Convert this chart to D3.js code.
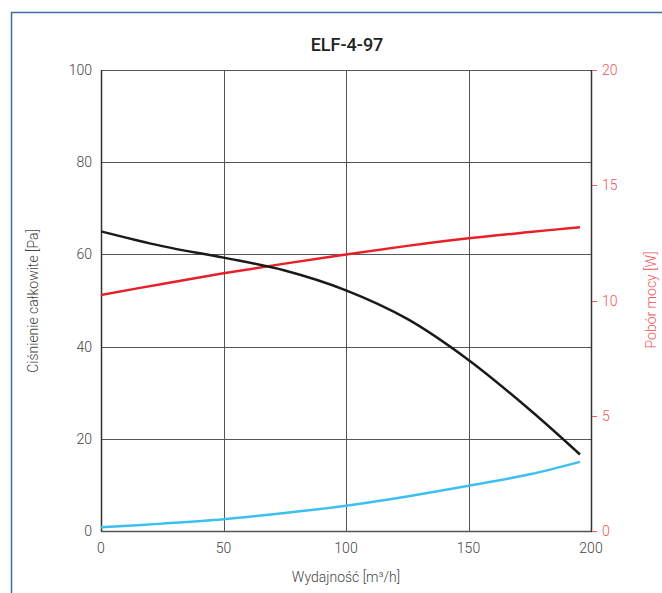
<!DOCTYPE html>
<html><head><meta charset="utf-8">
<script src="https://cdn.jsdelivr.net/npm/d3@7"></script>
<style>body{margin:0;background:#fff}svg{display:block}text{font-family:Roboto,"Noto Sans",sans-serif}</style>
</head><body>
<svg id="c" width="662" height="593"></svg>
<script>
const title = "ELF-4-97";
const xLabel = "Wydajność [m³/h]";
const yLeftLabel = "Ciśnienie całkowite [Pa]";
const yRightLabel = "Pobór mocy [W]";
const xTicks = [0, 50, 100, 150, 200];
const yLeftTicks = [0, 20, 40, 60, 80, 100];
const yRightTicks = [0, 5, 10, 15, 20];
const flowX = [0, 25, 50, 75, 100, 125, 150, 175, 195.5];
const pressure = [65, 61.8, 59.3, 56.5, 52.2, 46.0, 37.1, 26.3, 16.6];
const power = [10.24, 10.72, 11.18, 11.6, 12.0, 12.37, 12.7, 12.97, 13.18];
const blueSeries = [0.8, 1.6, 2.55, 3.9, 5.5, 7.5, 9.8, 12.3, 15.0];

const svg = d3.select("#c");
const L = 101, R = 591, T = 70, B = 531;
const x = d3.scaleLinear().domain([0, 200]).range([L, R]);
const yL = d3.scaleLinear().domain([0, 100]).range([B, T]);
const yR = d3.scaleLinear().domain([0, 20]).range([B, T]);

// frame
svg.append("path").attr("d", "M11.5,593 V12.5 H662").attr("fill", "none")
  .attr("stroke", "#3a6ea5").attr("stroke-width", 1.5);

// title
svg.append("text").attr("x", 347).attr("y", 51).attr("text-anchor", "middle")
  .attr("font-size", 18).attr("font-weight", 500).attr("fill", "#222").text(title);

// grid
const g = svg.append("g");
yLeftTicks.forEach(t => {
  g.append("line").attr("x1", L).attr("x2", R).attr("y1", Math.round(yL(t)) + 0.5).attr("y2", Math.round(yL(t)) + 0.5)
    .attr("stroke", "#555").attr("stroke-width", 1);
});
xTicks.forEach(t => {
  g.append("line").attr("y1", T).attr("y2", B).attr("x1", Math.round(x(t)) + 0.5).attr("x2", Math.round(x(t)) + 0.5)
    .attr("stroke", "#555").attr("stroke-width", 1);
});
// axis lines
g.append("line").attr("x1", L + 0.5).attr("x2", L + 0.5).attr("y1", T).attr("y2", B + 1).attr("stroke", "#333").attr("stroke-width", 1.5);
g.append("line").attr("x1", L).attr("x2", R + 1).attr("y1", B + 0.5).attr("y2", B + 0.5).attr("stroke", "#555").attr("stroke-width", 1.5);
g.append("line").attr("x1", R + 0.5).attr("x2", R + 0.5).attr("y1", T).attr("y2", B + 1).attr("stroke", "#333").attr("stroke-width", 1.5);

// left tick labels
svg.append("g").selectAll("text").data(yLeftTicks).join("text")
  .attr("x", 92).attr("y", d => yL(d) + 5).attr("text-anchor", "end")
  .attr("font-size", 14).attr("font-weight", 300).attr("fill", "#444").text(d => d);
// bottom tick labels
svg.append("g").selectAll("text").data(xTicks).join("text")
  .attr("x", d => x(d)).attr("y", 553).attr("text-anchor", "middle")
  .attr("font-size", 14).attr("font-weight", 300).attr("fill", "#444").text(d => d);
// right ticks
const rg = svg.append("g");
rg.selectAll("line").data(yRightTicks).join("line")
  .attr("x1", R + 1).attr("x2", R + 6).attr("y1", d => Math.round(yR(d)) + 0.5).attr("y2", d => Math.round(yR(d)) + 0.5)
  .attr("stroke", "#f0555a").attr("stroke-width", 1);
rg.selectAll("text").data(yRightTicks).join("text")
  .attr("x", 602).attr("y", d => yR(d) + 5).attr("text-anchor", "start")
  .attr("font-size", 14).attr("font-weight", 300).attr("fill", "#f0555a").text(d => d);

// axis titles
svg.append("text").attr("x", 346).attr("y", 582).attr("text-anchor", "middle")
  .attr("font-size", 14).attr("font-weight", 300).attr("fill", "#444").text(xLabel);
svg.append("text").attr("transform", "translate(38,301) rotate(-90)").attr("text-anchor", "middle")
  .attr("font-size", 14).attr("font-weight", 300).attr("fill", "#444").text(yLeftLabel);
svg.append("text").attr("transform", "translate(656,300) rotate(-90)").attr("text-anchor", "middle")
  .attr("font-size", 14).attr("font-weight", 300).attr("fill", "#f0555a").text(yRightLabel);

// curves
const line = (ys, ysc) => d3.line().x((d, i) => x(flowX[i])).y(d => ysc(d)).curve(d3.curveCatmullRom.alpha(0.5))(ys);
svg.append("path").attr("d", line(blueSeries, yL)).attr("fill", "none").attr("stroke", "#3dc0ef").attr("stroke-width", 2.5);
svg.append("path").attr("d", line(power, yR)).attr("fill", "none").attr("stroke", "#e8202a").attr("stroke-width", 2.5);
svg.append("path").attr("d", line(pressure, yL)).attr("fill", "none").attr("stroke", "#1a1a1a").attr("stroke-width", 2.5);
</script>
</body></html>
